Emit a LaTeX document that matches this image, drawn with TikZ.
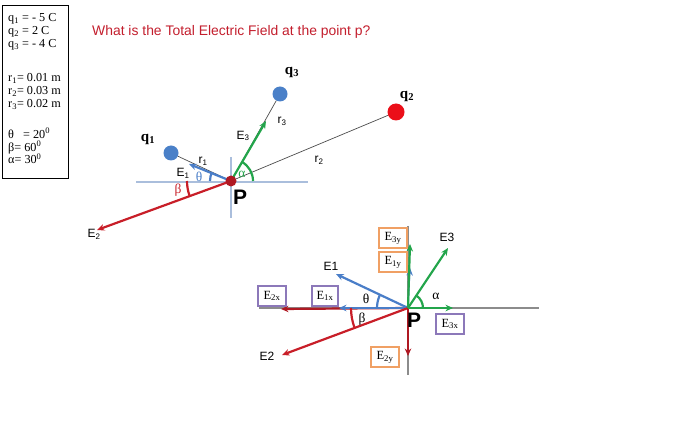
\documentclass[tikz,border=0pt]{standalone}
\usepackage{fontspec}
\setmainfont{Liberation Serif}
\newfontfamily\arl{Liberation Sans}
\usetikzlibrary{arrows.meta}
\definecolor{qblue}{RGB}{74,128,200}
\definecolor{eblue}{RGB}{74,126,200}
\definecolor{axblue}{RGB}{170,190,220}
\definecolor{ered}{RGB}{200,30,40}
\definecolor{dred}{RGB}{175,25,35}
\definecolor{qred}{RGB}{235,15,25}
\definecolor{egreen}{RGB}{35,165,75}
\definecolor{axgray}{RGB}{140,140,140}
\definecolor{obox}{RGB}{240,160,100}
\definecolor{pbox}{RGB}{140,120,185}
\definecolor{ttl}{RGB}{195,30,45}
\tikzset{
  vec/.style={line width=2.2pt,-{Stealth[length=7.5pt,width=6.5pt]}},
  thinln/.style={draw=black!70,line width=0.7pt},
  arcst/.style={line width=2.2pt},
  sanslbl/.style={font=\arl\fontsize{12}{14}\selectfont,inner sep=0pt},
  qlbl/.style={font=\fontsize{15}{17}\selectfont\bfseries,inner sep=0pt},
  compbox/.style={draw,line width=1.2pt,fill=white,font=\fontsize{12.5}{14}\selectfont,minimum width=28pt,minimum height=20pt,inner sep=1pt},
  obx/.style={compbox,draw=obox},
  pbx/.style={compbox,draw=pbox},
  grk/.style={font=\fontsize{13.5}{15}\selectfont,inner sep=0pt},
  plbl/.style={font=\arl\bfseries\fontsize{21}{23}\selectfont,inner sep=0pt}
}
\begin{document}
\begin{tikzpicture}[x=1pt,y=-1pt]
\useasboundingbox (0,0) rectangle (700,427);
% info box
\node (info) [draw,line width=1.4pt,anchor=north west,minimum width=66pt,minimum height=173pt,inner sep=0pt] at (2,5) {};
\node (infotext) [anchor=north west,align=left,inner sep=0pt,font=\fontsize{12.2}{13}\selectfont] at (8,13)
 {q\textsubscript{1} = - 5 C\\
  q\textsubscript{2} = 2 C\\
  q\textsubscript{3} = - 4 C\\[21pt]
  r\textsubscript{1}= 0.01 m\\
  r\textsubscript{2}= 0.03 m\\
  r\textsubscript{3}= 0.02 m\\[18pt]
  θ \ \ = 20\textsuperscript{0}\\
  β= 60\textsuperscript{0}\\[-0.5pt]
  α= 30\textsuperscript{0}};
% title
\node (title) [anchor=west,text=ttl,font=\arl\fontsize{13.9}{16}\selectfont,inner sep=0pt] at (92,32) {What is the Total Electric Field at the point p?};

% ---------- top diagram ----------
\coordinate (P) at (231,181);
\coordinate (axL) at (136,182);
\coordinate (axR) at (308,182);
\coordinate (axT) at (231,157);
\coordinate (axB) at (231,218);
\draw[axblue,line width=1.3pt] (axL) -- (axR);
\draw[axblue,line width=1.3pt] (axT) -- (axB);
\node (q1) [circle,fill=qblue,minimum size=15pt,inner sep=0pt] at (171,153) {};
\node (q3) [circle,fill=qblue,minimum size=15pt,inner sep=0pt] at (280,94) {};
\node (q2) [circle,fill=qred,minimum size=17pt,inner sep=0pt] at (396,112) {};
\draw[thinln] (q1) -- (P);
\draw[thinln] (q3) -- (P);
\draw[thinln] (q2) -- (P);
\coordinate (E1t) at (189,164);
\coordinate (E3t) at (266,121);
\coordinate (E2t) at (97,230);
\draw[vec,eblue] (P) -- (E1t);
\draw[vec,egreen] (P) -- (E3t);
\draw[vec,ered] (P) -- (E2t);
% arcs
\draw[arcst,eblue] (P) ++(180:21) arc[start angle=180,end angle=205,radius=21];
\draw[arcst,ered] (P) ++(160:44) arc[start angle=160,end angle=180,radius=44];
\draw[arcst,egreen] (P) ++(0:22) arc[start angle=0,end angle=-60,radius=22];
\node (Pdot) [circle,fill=dred,minimum size=11pt,inner sep=0pt] at (P) {};
% labels
\node (q1l) [qlbl] at (148,139) {q\textsubscript{1}};
\node (q3l) [qlbl] at (292,72) {q\textsubscript{3}};
\node (q2l) [qlbl] at (407,96) {q\textsubscript{2}};
\node (r1l) [sanslbl] at (203,161) {r\textsubscript{1}};
\node (r2l) [sanslbl] at (319,160) {r\textsubscript{2}};
\node (r3l) [sanslbl] at (282,121) {r\textsubscript{3}};
\node (E1l) [sanslbl] at (183,173) {E\textsubscript{1}};
\node (E3l) [sanslbl] at (243,136) {E\textsubscript{3}};
\node (E2l) [sanslbl] at (94,234) {E\textsubscript{2}};
\node (thl) [grk,text=eblue] at (199,177) {θ};
\node (bel) [grk,text=ered] at (178,190) {β};
\node (all) [grk,text=egreen] at (242,174) {α};
\node (Pl) [plbl] at (240,197) {P};

% ---------- bottom diagram ----------
\coordinate (Q) at (408,308);
\coordinate (bxL) at (259,308);
\coordinate (bxR) at (539,308);
\coordinate (byT) at (408,226);
\coordinate (byB) at (408,375);
\draw[axgray,line width=1.4pt] (bxL) -- (bxR);
\draw[axgray,line width=1.4pt] (byT) -- (byB);
\coordinate (bE2x) at (281,309);
\coordinate (bE1x) at (339,308);
\coordinate (bE1) at (336,274);
\coordinate (bE2) at (282,355);
\coordinate (bE2y) at (408,356);
\coordinate (bE3) at (448,248);
\coordinate (bE3x) at (453,308);
\coordinate (bE1y) at (410,268);
\coordinate (bE3y) at (410,244);
\draw[vec,dred] (Q) -- (bE2x);
\draw[vec,eblue,line width=1.3pt] (Q) -- (bE1x);
\draw[vec,eblue] (Q) -- (bE1);
\draw[vec,ered] (Q) -- (bE2);
\draw[vec,dred] (Q) -- (bE2y);
\draw[vec,eblue,line width=1.3pt] (Q) -- (bE1y);
\draw[vec,egreen] (Q) -- (bE3y);
\draw[vec,egreen] (Q) -- (bE3);
\draw[vec,egreen] (Q) -- (bE3x);
% arcs
\draw[arcst,eblue] (Q) ++(180:31) arc[start angle=180,end angle=205,radius=31];
\draw[arcst,ered] (Q) ++(160:57) arc[start angle=160,end angle=180,radius=57];
\draw[arcst,egreen] (Q) ++(0:15) arc[start angle=0,end angle=-56,radius=15];
% labels
\node (bE1l) [sanslbl] at (331,266) {E1};
\node (bE2l) [sanslbl] at (267,356) {E2};
\node (bE3l) [sanslbl] at (447,237) {E3};
\node (bth) [grk] at (366,299) {θ};
\node (bbe) [grk] at (362,319) {β};
\node (bal) [grk] at (436,296) {α};
\node (bP) [plbl] at (414,320) {P};
% component boxes
\node (c3y) [obx] at (393,238) {E\textsubscript{3y}};
\node (c1y) [obx] at (393,262) {E\textsubscript{1y}};
\node (c2y) [obx] at (385,357) {E\textsubscript{2y}};
\node (c2x) [pbx] at (272,296) {E\textsubscript{2x}};
\node (c1x) [pbx,minimum width=26pt] at (325,296) {E\textsubscript{1x}};
\node (c3x) [pbx] at (450,324) {E\textsubscript{3x}};
\end{tikzpicture}
\end{document}
